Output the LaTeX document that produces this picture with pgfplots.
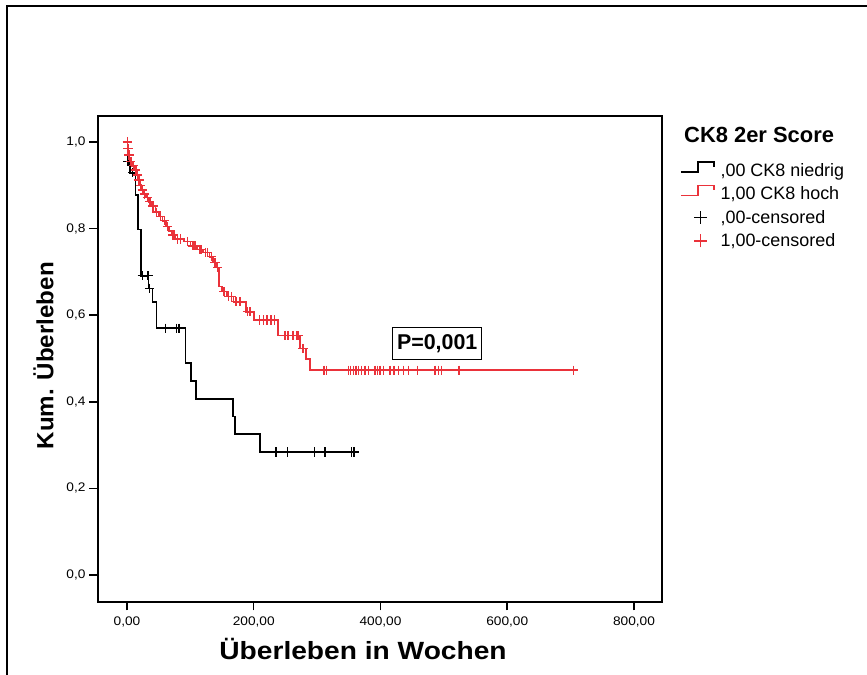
\documentclass[border=0pt]{standalone}
\usepackage{fontspec}
\setmainfont{Liberation Sans}
\newfontfamily\tickfont{Liberation Sans}[FakeStretch=1.1]
\newfontfamily\xlabfont{Liberation Sans}[FakeStretch=1.13]
\newfontfamily\ylabfont{Liberation Sans}[FakeStretch=1.03]
\usepackage{pgfplots}
\pgfplotsset{compat=1.18}
\definecolor{kmred}{RGB}{234,50,58}
\pgfplotsset{
  kmstep legend/.style={legend image code/.code={\path[draw=none,fill=none] (0bp,-3bp) rectangle (33bp,3bp); \draw[##1] (0bp,-1.7bp) -- (17bp,-1.7bp) -- (17bp,8.3bp) -- (33bp,8.3bp) -- (33bp,3.3bp);}},
  kmplus legend/.style={legend image code/.code={\path[draw=none,fill=none] (0bp,-3bp) rectangle (33bp,3bp); \draw[##1] (13.5bp,0bp) -- (26.5bp,0bp) (20bp,-6.5bp) -- (20bp,6.5bp);}},
}
\begin{document}
\begin{tikzpicture}
\begin{axis}[
  at={(98bp,73bp)}, anchor=south west,
  scale only axis, width=564bp, height=486bp,
  xmin=-45.76, xmax=844.2, ymin=-0.0624, ymax=1.060,
  axis line style={line width=1.5bp},
  tick style={line width=1.5bp, black},
  major tick length=8.5bp, tick align=outside, tick pos=left,
  xtick={0,200,400,600,800},
  xticklabels={{0,00},{200,00},{400,00},{600,00},{800,00}},
  ytick={0,0.2,0.4,0.6,0.8,1},
  yticklabels={{0,0},{0,2},{0,4},{0,6},{0,8},{1,0}},
  ticklabel style={font=\tickfont\fontsize{12.5}{14}\selectfont},
  xticklabel style={yshift=-3bp},
  yticklabel style={xshift=-0.5bp},
  xlabel={Überleben in Wochen},
  xlabel style={font=\xlabfont\bfseries\fontsize{25}{29}\selectfont, at={(axis description cs:0.4699,-0.1193)}, anchor=base},
  ylabel={Kum. Überleben},
  ylabel style={font=\ylabfont\bfseries\fontsize{23.5}{27}\selectfont, at={(axis description cs:-0.0793,0.5066)}, anchor=base},
  legend style={at={(axis description cs:1.0319,0.9076)}, anchor=north west, draw=none, fill=none,
    inner sep=0pt, outer sep=0pt, font=\fontsize{18}{21}\selectfont,
    row sep=5.6bp, column sep=6bp,
    nodes={inner sep=0pt, text height=15bp, text depth=3bp}},
  legend cell align=left,
]
% black: CK8 niedrig
\addplot[const plot, black, line width=1.6bp, forget plot] coordinates {
(0,1) (1,0.955) (5,0.929) (13.6,0.878) (17.8,0.798) (22,0.691) (34,0.662) (40.4,0.631) (46.7,0.570) (92.4,0.489) (100.8,0.448) (109,0.406) (167.4,0.366) (170.6,0.326) (210,0.284) (365,0.284)};
\addplot[only marks, mark=+, mark size=4.6bp, black, mark options={line width=1.4bp}, forget plot] coordinates {
(1.5,0.955) (9,0.929) (24,0.691) (33,0.691) (35.5,0.662) (61,0.570) (78,0.570) (82,0.570) (235.1,0.284) (252.9,0.284) (295.5,0.284) (312.4,0.284) (354.6,0.284) (358.2,0.284)};
% red: CK8 hoch
\addplot[const plot, kmred, line width=1.7bp, forget plot] coordinates {
(0,1.0) (1,0.985) (2,0.97) (4,0.955) (8,0.945) (12,0.935) (16,0.924) (18,0.912) (20,0.900) (22,0.889) (26,0.880) (30,0.872) (34,0.862) (38,0.852) (45,0.838) (50,0.828) (56,0.818) (62,0.805) (66,0.795) (70,0.785) (76,0.776) (90,0.770) (100,0.760) (110,0.752) (120,0.745) (130,0.735) (136,0.722) (141,0.710) (145,0.666) (150,0.655) (158,0.643) (168,0.631) (187.5,0.608) (200,0.589) (238,0.553) (272.5,0.523) (282,0.498) (288.8,0.473) (709.6,0.473)};
\addplot[only marks, mark=+, mark size=4.6bp, kmred, mark options={line width=1.4bp}, forget plot] coordinates {
(0.5,1.0) (1.5,0.985) (3,0.97) (6,0.955) (10,0.945) (14,0.935) (17,0.924) (19,0.912) (21,0.900) (24,0.889) (28,0.880) (32,0.872) (36,0.862) (41,0.852) (47,0.838) (53,0.828) (59,0.818) (64,0.805) (72,0.785) (74,0.785) (80,0.776) (84,0.776) (95,0.770) (104,0.760) (107,0.760) (114,0.752) (117,0.752) (124,0.745) (127,0.745) (133,0.735) (139,0.722) (143,0.710)
(153,0.655) (160,0.643) (165,0.643) (172,0.631) (178,0.631) (190,0.608) (194,0.608) (209.5,0.589) (215,0.589) (221,0.589) (227,0.589) (233,0.589) (249,0.553) (254,0.553) (262,0.553) (267,0.553) (270,0.553) (277.7,0.523)
(310.8,0.473) (315.1,0.473) (349.2,0.473) (352.9,0.473) (357.1,0.473) (361.3,0.473) (365,0.473) (370.3,0.473) (375.5,0.473) (380.8,0.473) (391.3,0.473) (395,0.473) (399.2,0.473) (404.4,0.473) (415,0.473) (421.3,0.473) (428.1,0.473) (436,0.473) (443.9,0.473) (458.7,0.473) (486,0.473) (491.3,0.473) (496.6,0.473) (523.9,0.473) (704.2,0.473)};
% legend
\addlegendimage{black, line width=1.6bp, kmstep legend}
\addlegendentry{,00 CK8 niedrig}
\addlegendimage{kmred, line width=1.6bp, kmstep legend}
\addlegendentry{1,00 CK8 hoch}
\addlegendimage{black, line width=1.2bp, kmplus legend}
\addlegendentry{,00-censored}
\addlegendimage{kmred, line width=1.2bp, kmplus legend}
\addlegendentry{1,00-censored}
\node[draw, line width=1.3bp, minimum width=89bp, minimum height=32bp, inner sep=0pt,
  font=\bfseries\fontsize{21.5}{25}\selectfont] at (axis cs:489.5,0.535) {P=0,001};
\end{axis}
\node[anchor=base west, inner sep=0pt, font=\bfseries\fontsize{22}{26}\selectfont] at (684bp,532bp) {CK8 2er Score};
\draw[line width=2bp] (7bp,0bp) -- (7bp,669bp) -- (867bp,669bp);
\pgfresetboundingbox
\useasboundingbox (0bp,0bp) rectangle (867bp,675bp);
\end{tikzpicture}
\end{document}
